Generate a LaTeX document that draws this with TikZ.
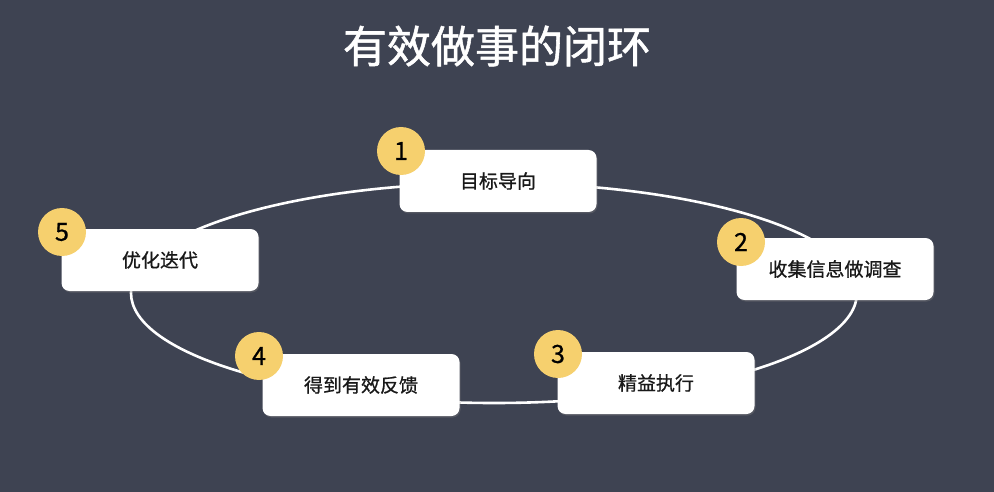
\documentclass[tikz,border=0pt]{standalone}
\usepackage{fontspec}
\setmainfont{Noto Sans CJK SC}
\newfontfamily\cjk{Noto Sans CJK SC}
\newfontfamily\cjkmed{Noto Sans CJK SC}[FakeBold=0.8]
\newfontfamily\cjktitle{Noto Sans CJK SC}[FakeBold=1.2]
\usetikzlibrary{shadows}
\definecolor{bgc}{HTML}{3E4352}
\definecolor{badge}{HTML}{F6D06E}
\tikzset{
  x=1pt, y=-1pt,
  stepbox/.style={fill=white, rounded corners=8pt, minimum width=197pt, minimum height=62pt,
    inner sep=0pt, font=\fontsize{19}{21}\selectfont\cjkmed, text=black!90,
    drop shadow={opacity=0.35, shadow xshift=1pt, shadow yshift=-1.5pt}},
  badgenode/.style={circle, fill=badge, minimum size=48pt, inner sep=0pt,
    font=\fontsize{25}{27}\selectfont\cjkmed, text=black},
  loopline/.style={draw=white, line width=2.6pt},
}
\begin{document}
\begin{tikzpicture}
\fill[bgc] (0,0) rectangle (994,492);
\useasboundingbox (0,0) rectangle (994,492);
\node[font=\fontsize{44}{48}\selectfont\cjktitle, text=white] (title) at (497,46) {有效做事的闭环};
\draw[loopline] (494,293) ellipse [x radius=363, y radius=110];
\node[stepbox] (b1) at (498,181) {目标导向};
\node[stepbox] (b5) at (160,260) {优化迭代};
\node[stepbox] (b2) at (835,269) {收集信息做调查};
\node[stepbox] (b4) at (361,385) {得到有效反馈};
\node[stepbox] (b3) at (656,383) {精益执行};
\node[badgenode] (n1) at (401,151) {1};
\node[badgenode] (n5) at (62,232) {5};
\node[badgenode] (n2) at (741,242) {2};
\node[badgenode] (n4) at (259,356) {4};
\node[badgenode] (n3) at (558,354) {3};
\end{tikzpicture}
\end{document}
